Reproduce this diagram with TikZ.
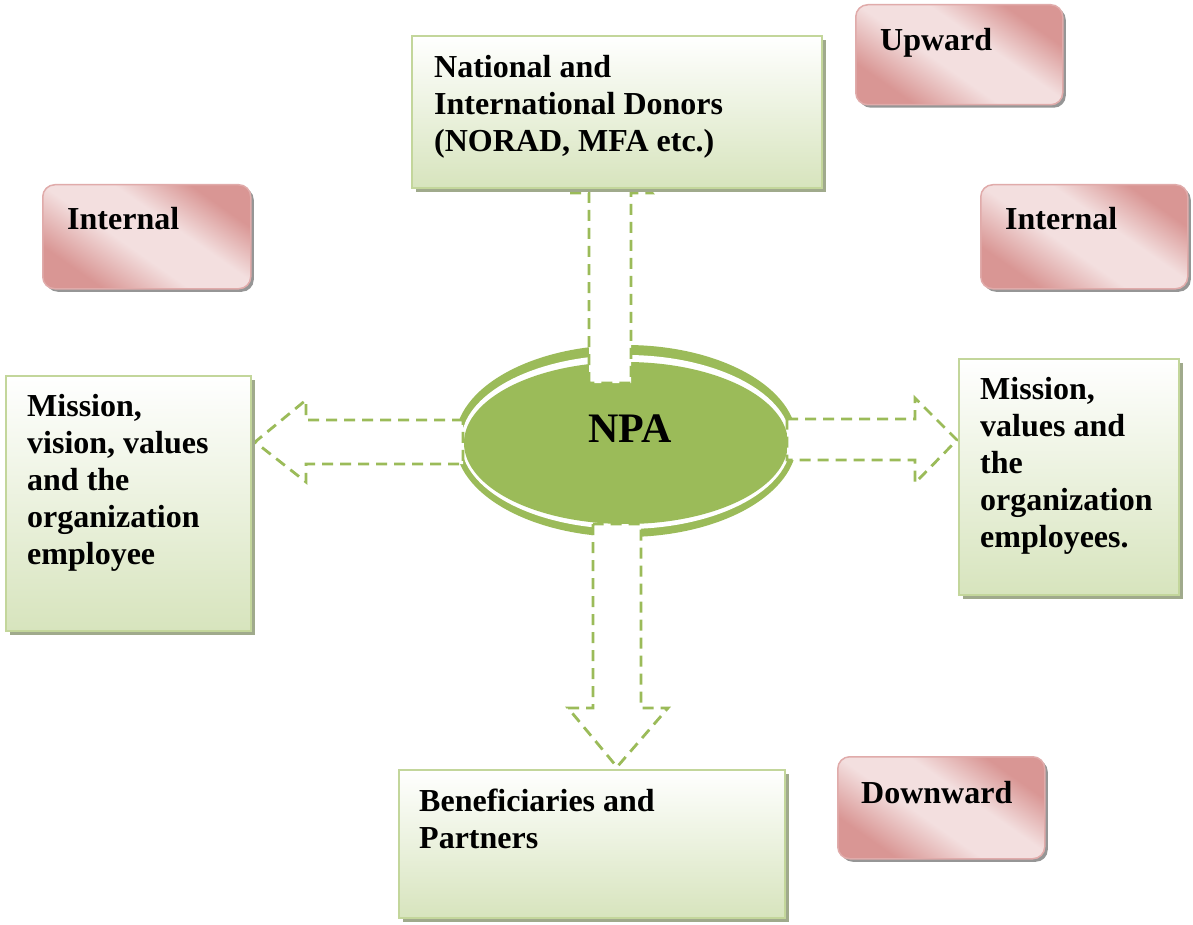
\documentclass[tikz,border=0pt]{standalone}
\usepackage{fontspec}
\setmainfont{Liberation Serif}
\usetikzlibrary{shadows}
\definecolor{npag}{HTML}{9BBB59}
\definecolor{gbot}{HTML}{D7E4BD}
\definecolor{gborder}{HTML}{C3D69B}
\definecolor{gshadow}{RGB}{160,170,140}
\definecolor{rdark}{HTML}{D99694}
\definecolor{rlight}{HTML}{F3DFDF}
\definecolor{rborder}{HTML}{E0ABAA}
\definecolor{rshadow}{RGB}{150,150,150}
\pgfdeclareverticalshading{redsheen}{100bp}{color(0bp)=(rdark); color(27bp)=(rdark); color(44bp)=(rlight); color(58bp)=(rlight); color(73bp)=(rdark); color(100bp)=(rdark)}
\tikzset{
  gbox/.style={rectangle, draw=gborder, line width=1.8pt, top color=white, bottom color=gbot,
    inner sep=0pt, anchor=north west,
    drop shadow={shadow xshift=4pt, shadow yshift=-4pt, fill=gshadow, opacity=1}},
  rbox/.style={rectangle, rounded corners=12pt, draw=rborder, line width=1.5pt,
    shading=redsheen, shading angle=-35,
    inner sep=0pt, anchor=north west,
    drop shadow={shadow xshift=3pt, shadow yshift=-3pt, fill=rshadow, opacity=1}},
  txt/.style={font=\fontsize{32}{37}\selectfont\bfseries, align=left, inner sep=0pt, anchor=north west},
  darrow/.style={draw=npag, fill=white, line width=2.8pt, dash pattern=on 11pt off 7pt, line join=miter},
}
\begin{document}
\begin{tikzpicture}[x=1pt, y=-1pt]
\useasboundingbox (0,0) rectangle (1193,925);
% central ellipse
\fill[npag] (626,441) ellipse [x radius=171pt, y radius=96pt];
\fill[white] (626,442) ellipse [x radius=165pt, y radius=87pt];
\fill[npag] (626,443) ellipse [x radius=162pt, y radius=81pt];
% block arrows
\draw[darrow] (589,383) -- (589,193) -- (568,193) -- (610,140) -- (652,193) -- (631,193) -- (631,383) -- cycle;
\draw[darrow] (593,524) -- (593,708) -- (568,708) -- (617,767) -- (668,708) -- (641,708) -- (641,524) -- cycle;
\draw[darrow] (463,420) -- (306,420) -- (306,400) -- (255,442) -- (306,482) -- (306,464) -- (463,464) -- cycle;
\draw[darrow] (787,419) -- (915,419) -- (915,398) -- (957,440) -- (915,483) -- (915,460) -- (787,460) -- cycle;
% green boxes
\node[gbox, minimum width=410pt, minimum height=152pt] (donorbox) at (411,35) {};
\node[gbox, minimum width=245pt, minimum height=255pt] (leftbox) at (5,375) {};
\node[gbox, minimum width=220pt, minimum height=236pt] (rightbox) at (958,358) {};
\node[gbox, minimum width=386pt, minimum height=148pt] (benefbox) at (398,769) {};
% red boxes
\node[rbox, minimum width=207pt, minimum height=100pt] (upbox) at (855,4) {};
\node[rbox, minimum width=208pt, minimum height=104pt] (intlbox) at (42,184) {};
\node[rbox, minimum width=207pt, minimum height=104pt] (intrbox) at (980,184) {};
\node[rbox, minimum width=207pt, minimum height=102pt] (downbox) at (837,756) {};
% texts
\node[txt] (donortxt) at (434,55) {National and\\International Donors\\(NORAD, MFA etc.)};
\node[txt] (lefttxt) at (27,394) {Mission,\\vision, values\\and the\\organization\\employee};
\node[txt] (righttxt) at (980,377) {Mission,\\values and\\the\\organization\\employees.};
\node[txt] (beneftxt) at (419,789) {Beneficiaries and\\Partners};
\node[txt] (uptxt) at (880,28) {Upward};
\node[txt] (intltxt) at (67,207) {Internal};
\node[txt] (intrtxt) at (1005,207) {Internal};
\node[txt] (downtxt) at (861,781) {Downward};
\node[font=\fontsize{42}{48}\selectfont\bfseries, inner sep=0pt, anchor=base] (npa) at (630,442) {NPA};
\end{tikzpicture}
\end{document}
